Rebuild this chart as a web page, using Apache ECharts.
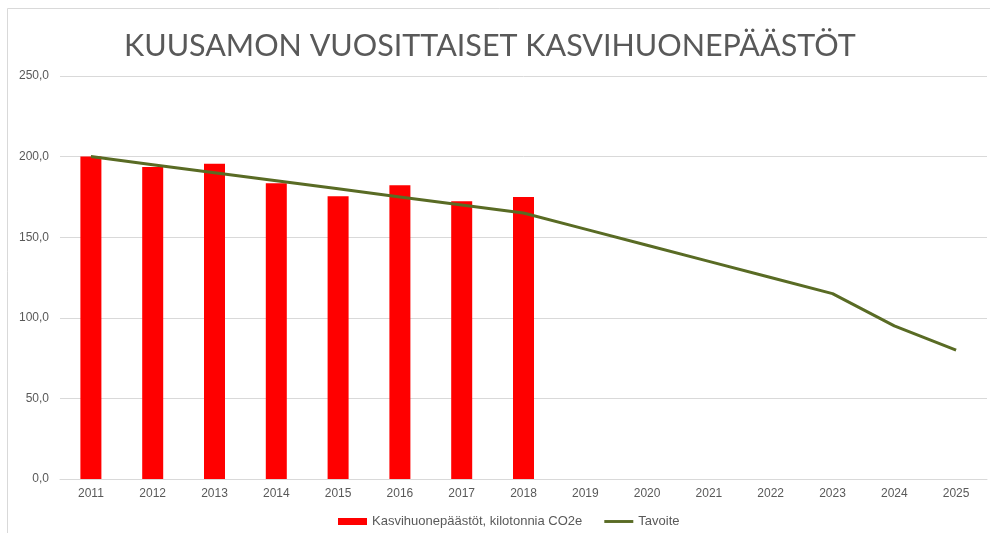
<!DOCTYPE html>
<html>
<head>
<meta charset="utf-8">
<script src="https://cdn.jsdelivr.net/npm/echarts@6/dist/echarts.min.js"></script>
<style>html,body{margin:0;padding:0;background:#fff;}#c{width:990px;height:533px;}</style>
</head>
<body>
<div id="c"></div>
<script>
const years = ['2011','2012','2013','2014','2015','2016','2017','2018','2019','2020','2021','2022','2023','2024','2025'];
const emissions = [200, 193.5, 195.6, 183.4, 175.4, 182.2, 172.3, 175, null, null, null, null, null, null, null];
const target = [200, 195, 190, 185, 180, 175, 170, 165, 155, 145, 135, 125, 115, 95, 80];
const seriesNames = ['Kasvihuonepäästöt, kilotonnia CO2e', 'Tavoite'];
const titleText = 'KUUSAMON VUOSITTAISET KASVIHUONEPÄÄSTÖT';

const chart = echarts.init(document.getElementById('c'), null, {renderer: 'canvas'});
chart.setOption({
  animation: false,
  backgroundColor: '#ffffff',
  title: {
    text: titleText,
    left: 119,
    top: 26,
    textStyle: {fontFamily: 'Lato', fontSize: 30.5, fontWeight: 'normal', color: '#595959'}
  },
  graphic: [{
    type: 'rect',
    shape: {x: 7.5, y: 8.5, width: 1000, height: 600},
    style: {fill: 'none', stroke: '#d9d9d9', lineWidth: 1},
    silent: true
  }],
  legend: {
    bottom: 5,
    left: 338,
    padding: 0,
    itemGap: 22,
    itemWidth: 29,
    itemHeight: 7,
    textStyle: {fontFamily: 'Liberation Sans', fontSize: 13, color: '#595959'},
    data: [
      {name: seriesNames[0], icon: 'rect'},
      {name: seriesNames[1], icon: 'path://M0,0 L30,0 L30,3 L0,3 Z', itemStyle: {color: '#596b24'}}
    ]
  },
  grid: {left: 60, right: 3, top: 76, bottom: 54},
  xAxis: {
    type: 'category',
    data: years,
    axisLine: {lineStyle: {color: '#d9d9d9', width: 1}},
    axisTick: {show: false},
    axisLabel: {color: '#595959', fontFamily: 'Liberation Sans', fontSize: 12, margin: 9}
  },
  yAxis: {
    type: 'value',
    min: 0, max: 250, interval: 50,
    axisLine: {show: false},
    axisTick: {show: false},
    splitLine: {lineStyle: {color: '#d9d9d9', width: 1}},
    axisLabel: {
      color: '#595959', fontFamily: 'Liberation Sans', fontSize: 12, margin: 11,
      formatter: v => v.toFixed(1).replace('.', ',')
    }
  },
  series: [
    {
      name: seriesNames[0],
      type: 'bar',
      data: emissions,
      barWidth: 21,
      itemStyle: {color: '#ff0000'}
    },
    {
      name: seriesNames[1],
      type: 'line',
      data: target,
      symbol: 'none',
      lineStyle: {color: '#596b24', width: 3},
      itemStyle: {color: '#596b24'}
    }
  ]
});
</script>
</body>
</html>
